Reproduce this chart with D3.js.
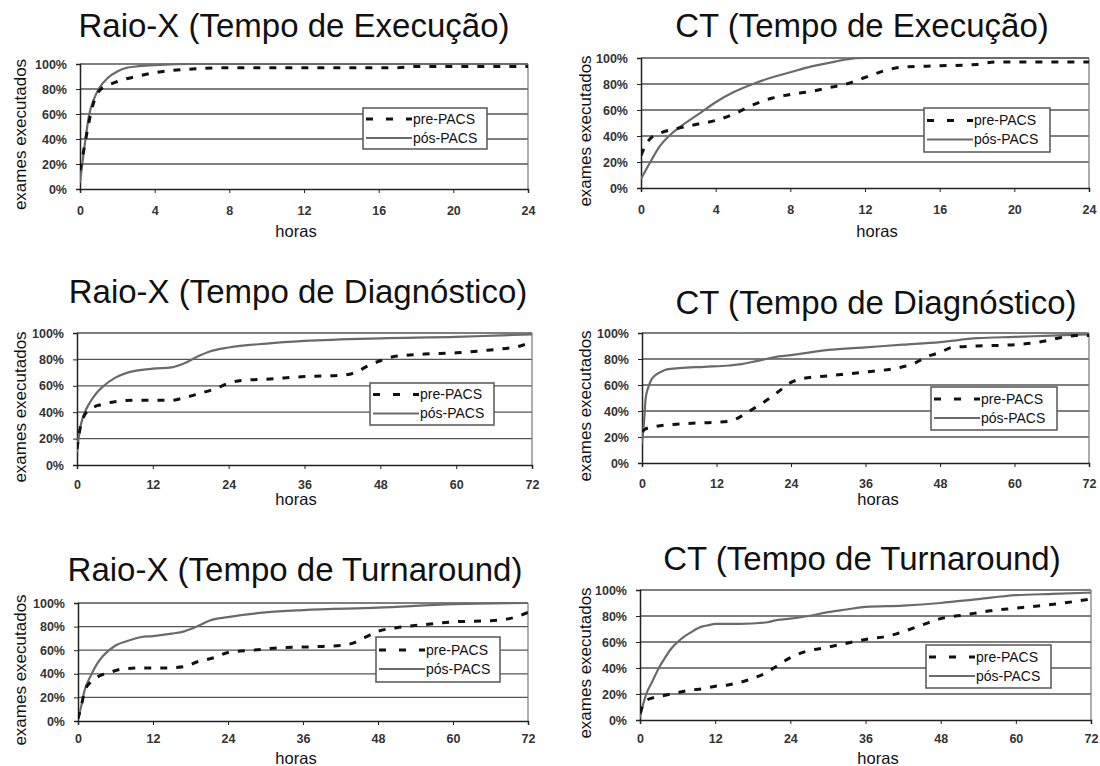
<!DOCTYPE html>
<html>
<head>
<meta charset="utf-8">
<script src="https://cdn.jsdelivr.net/npm/d3@7"></script>
<style>
  body { margin: 0; background: #fff; }
  svg { display: block; font-family: "Liberation Sans", Arial, sans-serif; }
</style>
</head>
<body>
<svg id="chart" width="1100" height="766"></svg>
<script>
// data: [hours, % of exams done]
var rxExecPre = [[0,15],[0.25,35],[0.5,55],[0.75,70],[1,78],[1.5,83],[2,86],[3,90],[4,93],[5,95],[6,96],[8,97],[17,97],[18,98],[24,98]];
var rxExecPos = [[0,5],[0.25,35],[0.5,60],[0.75,72],[1,80],[1.5,89],[2,94],[2.5,97],[3,98],[4,99],[6,100],[24,100]];

var ctExecPre = [[0,25],[0.25,33],[0.5,38],[1,42],[2,46],[3,49],[4,52],[5,57],[6,64],[7,69],[8,72],[9,74],[10,77],[11,80],[12,85],[13,90],[14,93],[16,94],[18,95],[19,97],[24,97]];
var ctExecPos = [[0,7],[0.5,20],[1,32],[1.5,40],[2,46],[3,56],[4,66],[5,74],[6,80],[7,85],[8,89],[9,93],[10,96],[11,99],[12,100],[24,100]];

var rxDiagPre = [[0,12],[0.5,28],[1,36],[2,42],[4,46],[6,48],[9,49],[15,49],[17,51],[20,55],[22,58],[24,62],[26,64],[30,65],[36,67],[42,68],[44,70],[46,75],[48,79],[50,82],[55,84],[60,85],[65,87],[70,90],[72,94]];
var rxDiagPos = [[0,10],[0.5,28],[1,37],[2,47],[3,54],[4,59],[6,66],[8,70],[12,73],[15,74],[17,77],[19,82],[21,86],[24,89],[30,92],[36,94],[48,96],[60,97],[66,98],[72,99]];

var ctDiagPre = [[0,24],[0.5,26],[2,28],[6,30],[10,31],[14,32],[16,36],[18,42],[20,48],[22,55],[24,62],[26,65],[30,67],[36,70],[42,74],[44,77],[46,82],[48,85],[50,89],[54,90],[60,91],[64,93],[66,95],[70,98],[72,98]];
var ctDiagPos = [[0,15],[0.3,30],[0.6,50],[1,58],[1.5,64],[2,67],[3,70],[4,72],[6,73],[10,74],[14,75],[16,76],[18,78],[20,80],[22,82],[24,83],[30,87],[36,89],[42,91],[48,93],[54,96],[60,97],[66,98],[72,99]];

var rxTurnPre = [[0,2],[0.5,12],[1,24],[2,33],[3,37],[5,41],[7,44],[10,45],[14,45],[17,46],[19,50],[22,54],[24,58],[28,60],[32,62],[38,63],[42,64],[44,66],[46,71],[48,76],[51,79],[56,82],[60,84],[66,85],[70,88],[72,92]];
var rxTurnPos = [[0,2],[0.5,12],[1,25],[2,38],[3,48],[4,55],[5,60],[6,64],[8,68],[10,71],[12,72],[15,74],[17,76],[19,80],[21,85],[24,88],[30,92],[36,94],[48,96],[60,99],[72,100]];

var ctTurnPre = [[0,5],[0.5,12],[1,15],[2,17],[4,19],[6,21],[8,23],[10,24],[12,26],[14,27],[16,29],[18,32],[20,36],[22,42],[24,48],[26,52],[30,56],[36,62],[40,65],[42,68],[45,73],[48,78],[52,81],[56,84],[60,86],[66,89],[72,93]];
var ctTurnPos = [[0,2],[0.5,12],[1,20],[2,30],[3,40],[4,48],[5,55],[6,60],[7,64],[8,67],[9,70],[10,72],[11,73],[12,74],[16,74],[20,75],[22,77],[24,78],[27,80],[30,83],[33,85],[36,87],[42,88],[48,90],[54,93],[60,96],[66,97],[72,98]];

var titles = ["Raio-X (Tempo de Execução)", "CT (Tempo de Execução)",
              "Raio-X (Tempo de Diagnóstico)", "CT (Tempo de Diagnóstico)",
              "Raio-X (Tempo de Turnaround)", "CT (Tempo de Turnaround)"];
var xTicks24 = [0, 4, 8, 12, 16, 20, 24];
var xTicks72 = [0, 12, 24, 36, 48, 60, 72];
var yTicks = [0, 20, 40, 60, 80, 100];
var legendLabels = ["pre-PACS", "pós-PACS"];
var xLabel = "horas";
var yLabel = "exames executados";

// where each panel sits on the page (tp = x tick label padding)
var layout = [
  {l: 80,  r: 528,  t: 64,  b: 189, tp: 13, tx: 294, ty: 37,  hx: 296, hy: 237, yl: 20,  leg: [363, 108, 124, 41]},
  {l: 641, r: 1089, t: 58,  b: 188, tp: 13, tx: 862, ty: 37,  hx: 877, hy: 237, yl: 585, leg: [924, 108, 126, 44]},
  {l: 77,  r: 532,  t: 333, b: 465, tp: 11, tx: 298, ty: 303, hx: 296, hy: 505, yl: 20,  leg: [370, 383, 124, 42]},
  {l: 642, r: 1089, t: 333, b: 463, tp: 12, tx: 876, ty: 314, hx: 878, hy: 505, yl: 585, leg: [931, 387, 126, 43]},
  {l: 78,  r: 528,  t: 603, b: 721, tp: 9,  tx: 295, ty: 581, hx: 296, hy: 764, yl: 20,  leg: [376, 637, 124, 45]},
  {l: 640, r: 1091, t: 590, b: 720, tp: 10, tx: 862, ty: 570, hx: 878, hy: 764, yl: 585, leg: [926, 645, 125, 43]}
];

var series = [
  [rxExecPre, rxExecPos, xTicks24], [ctExecPre, ctExecPos, xTicks24],
  [rxDiagPre, rxDiagPos, xTicks72], [ctDiagPre, ctDiagPos, xTicks72],
  [rxTurnPre, rxTurnPos, xTicks72], [ctTurnPre, ctTurnPos, xTicks72]
];

var svg = d3.select("#chart");
svg.append("rect").attr("width", 1100).attr("height", 766).attr("fill", "#fff");

series.forEach(function(s, i) {
  var L = layout[i];
  var pre = s[0], pos = s[1], ticks = s[2];
  var x = d3.scaleLinear().domain([0, ticks[ticks.length - 1]]).range([L.l, L.r]);
  var y = d3.scaleLinear().domain([0, 100]).range([L.b, L.t]);
  var g = svg.append("g");

  // gridlines + frame
  g.selectAll(".grid").data(yTicks.slice(1)).enter().append("line")
    .attr("x1", L.l).attr("x2", L.r)
    .attr("y1", function(d) { return y(d); }).attr("y2", function(d) { return y(d); })
    .attr("stroke", "#555").attr("stroke-width", 1.3);
  g.append("line").attr("x1", L.r).attr("x2", L.r).attr("y1", L.t).attr("y2", L.b)
    .attr("stroke", "#777").attr("stroke-width", 1.2);

  // axes
  var xAxis = d3.axisBottom(x).tickValues(ticks).tickSize(4).tickPadding(L.tp);
  var yAxis = d3.axisLeft(y).tickValues(yTicks).tickSize(4).tickPadding(9)
    .tickFormat(function(d) { return d + "%"; });
  var gx = g.append("g").attr("transform", "translate(0," + L.b + ")").call(xAxis);
  var gy = g.append("g").attr("transform", "translate(" + L.l + ",0)").call(yAxis);
  [gx, gy].forEach(function(a) {
    a.select(".domain").attr("stroke", "#222").attr("stroke-width", 1.5);
    a.selectAll(".tick line").attr("stroke", "#222");
    a.selectAll("text").attr("font-size", 12.5).attr("font-weight", "bold").attr("fill", "#333")
      .attr("font-family", "Liberation Sans, Arial, sans-serif");
  });

  // curves
  var clipId = "clip" + i;
  g.append("clipPath").attr("id", clipId).append("rect")
    .attr("x", L.l).attr("y", L.t - 3).attr("width", L.r - L.l).attr("height", L.b - L.t + 3);
  var line = d3.line().x(function(d) { return x(d[0]); }).y(function(d) { return y(d[1]); })
    .curve(d3.curveMonotoneX);
  g.append("path").datum(pos).attr("d", line).attr("clip-path", "url(#" + clipId + ")")
    .attr("fill", "none").attr("stroke", "#6a6a6a").attr("stroke-width", 2.2);
  g.append("path").datum(pre).attr("d", line).attr("clip-path", "url(#" + clipId + ")")
    .attr("fill", "none").attr("stroke", "#111").attr("stroke-width", 3)
    .attr("stroke-dasharray", "7,9");

  // texts
  g.append("text").attr("x", L.tx).attr("y", L.ty).attr("text-anchor", "middle")
    .attr("font-size", 33).attr("fill", "#111").text(titles[i]);
  g.append("text").attr("x", L.hx).attr("y", L.hy).attr("text-anchor", "middle")
    .attr("font-size", 16.5).attr("fill", "#111").text(xLabel);
  g.append("text").attr("transform", "translate(" + L.yl + "," + ((L.t + L.b) / 2 + 8) + ") rotate(-90)")
    .attr("text-anchor", "middle").attr("dy", "0.35em")
    .attr("font-size", 17).attr("fill", "#111").text(yLabel);

  // legend
  var lg = L.leg;
  g.append("rect").attr("x", lg[0]).attr("y", lg[1]).attr("width", lg[2]).attr("height", lg[3])
    .attr("fill", "#fff").attr("stroke", "#555").attr("stroke-width", 1.5);
  legendLabels.forEach(function(lab, k) {
    var cy = lg[1] + 11 + k * 19 + (lg[3] - 41) / 2;
    g.append("line").attr("x1", lg[0] + 3).attr("x2", lg[0] + 49).attr("y1", cy).attr("y2", cy)
      .attr("stroke", k === 0 ? "#111" : "#6a6a6a").attr("stroke-width", k === 0 ? 3 : 2.2)
      .attr("stroke-dasharray", k === 0 ? "7,13" : null);
    g.append("text").attr("x", lg[0] + 50).attr("y", cy).attr("dy", "0.35em")
      .attr("font-size", 14).attr("fill", "#111").text(lab);
  });
});
</script>
</body>
</html>
